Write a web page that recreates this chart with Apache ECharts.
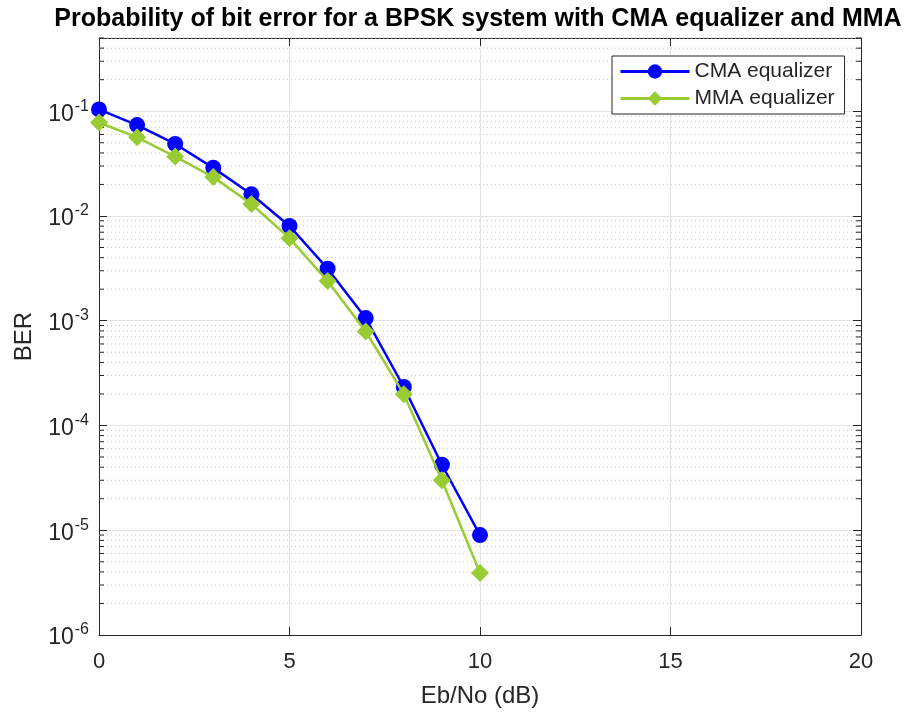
<!DOCTYPE html>
<html>
<head>
<meta charset="utf-8">
<script src="https://cdn.jsdelivr.net/npm/echarts@6/dist/echarts.min.js"></script>
<style>
html,body{margin:0;padding:0;background:#fff;}
#chart{width:915px;height:713px;}
</style>
</head>
<body>
<div id="chart"></div>
<script>
// ---- data ----
const ebno = [0, 1, 2, 3, 4, 5, 6, 7, 8, 9, 10];
const berCMA = [0.104, 0.0737, 0.0487, 0.0288, 0.0161, 0.00803, 0.00314, 0.00106, 0.000233, 4.22e-5, 9.0e-6];
const berMMA = [0.0781, 0.0563, 0.0369, 0.0235, 0.0130, 0.00614, 0.00239, 0.00079, 0.000199, 3.0e-5, 3.9e-6];
const xTicks = [0, 5, 10, 15, 20];
const yMin = 1e-6, yMax = 0.5;
const seriesNames = ['CMA equalizer', 'MMA equalizer'];

// minor log grid values (2..9 x each decade)
const minorGrid = [];
for (let e = -6; e <= -1; e++) {
  for (let k = 2; k <= 9; k++) {
    const v = k * Math.pow(10, e);
    if (v <= yMax * 1.0001) minorGrid.push([0, v]);
  }
}

const axisColor = '#262626';
const chart = echarts.init(document.getElementById('chart'), null, {renderer: 'canvas'});

function logLabel(v) {
  const l = Math.log10(v);
  const e = Math.round(l);
  if (Math.abs(l - e) > 1e-6) return '';
  return '{b|10}{s|' + e + '}';
}

const option = {
  animation: false,
  backgroundColor: '#fff',
  title: {
    text: 'Probability of bit error for a BPSK system with CMA equalizer and MMA',
    left: 473, top: 2, textAlign: 'center',
    textStyle: {fontFamily: 'Liberation Sans', fontWeight: 'bold', fontSize: 25, color: '#000'}
  },
  legend: {
    data: seriesNames,
    orient: 'vertical',
    left: 612, top: 56,
    backgroundColor: '#fff',
    borderColor: axisColor, borderWidth: 1,
    padding: [5, 10, 5, 7],
    itemWidth: 69, itemHeight: 18, itemGap: 6,
    lineStyle: {width: 3},
    textStyle: {fontFamily: 'Liberation Sans', fontSize: 21, color: axisColor}
  },
  grid: {left: 99, right: 54, top: 38, bottom: 73, containLabel: false},
  xAxis: [{
    type: 'value', min: 0, max: 20, interval: 5,
    name: 'Eb/No (dB)', nameLocation: 'middle', nameGap: 49,
    nameTextStyle: {fontFamily: 'Liberation Sans', fontSize: 24, color: axisColor},
    axisLine: {show: true, lineStyle: {color: axisColor, width: 1}},
    axisTick: {show: true, inside: true, length: 8, lineStyle: {color: axisColor}},
    axisLabel: {margin: 16, fontFamily: 'Liberation Sans', fontSize: 22, color: axisColor},
    splitLine: {show: true, lineStyle: {color: '#e3e3e3', width: 1}}
  }, {
    type: 'value', min: 0, max: 20, interval: 5, position: 'top',
    axisLine: {show: true, onZero: false, lineStyle: {color: axisColor, width: 1}},
    axisTick: {show: true, inside: true, length: 8, lineStyle: {color: axisColor}},
    axisLabel: {show: false}, splitLine: {show: false}
  }],
  yAxis: [{
    type: 'log', logBase: 10, min: yMin, max: yMax,
    name: 'BER', nameLocation: 'middle', nameGap: 63, nameRotate: 90,
    nameTextStyle: {fontFamily: 'Liberation Sans', fontSize: 24, color: axisColor},
    axisLine: {show: true, lineStyle: {color: axisColor, width: 1}},
    axisTick: {show: true, inside: true, length: 8, lineStyle: {color: axisColor}},
    axisLabel: {
      margin: 10, formatter: logLabel,
      rich: {
        b: {fontFamily: 'Liberation Sans', fontSize: 23, color: axisColor, padding: [6, 1, 0, 0]},
        s: {fontFamily: 'Liberation Sans', fontSize: 16, color: axisColor, padding: [0, 0, 10, 0]}
      }
    },
    splitLine: {show: true, lineStyle: {color: '#e3e3e3', width: 1}}
  }, {
    type: 'log', logBase: 10, min: yMin, max: yMax, position: 'right',
    axisLine: {show: true, onZero: false, lineStyle: {color: axisColor, width: 1}},
    axisTick: {show: true, inside: true, length: 8, lineStyle: {color: axisColor}},
    axisLabel: {show: false}, splitLine: {show: false}
  }],
  series: [
    {
      name: 'minorGrid', type: 'custom', silent: true, z: 1,
      xAxisIndex: 0, yAxisIndex: 0,
      data: minorGrid,
      renderItem: function (params, api) {
        const v = api.value(1);
        const p0 = api.coord([0, v]);
        const p1 = api.coord([20, v]);
        return {
          type: 'group',
          children: [
            {type: 'line', shape: {x1: p0[0], y1: p0[1], x2: p1[0], y2: p1[1]},
              style: {stroke: '#c8c8c8', lineWidth: 1, lineDash: [1, 3]}},
            {type: 'line', shape: {x1: p0[0], y1: p0[1], x2: p0[0] + 5, y2: p0[1]},
              style: {stroke: axisColor, lineWidth: 1}},
            {type: 'line', shape: {x1: p1[0] - 5, y1: p1[1], x2: p1[0], y2: p1[1]},
              style: {stroke: axisColor, lineWidth: 1}}
          ]
        };
      }
    },
    {
      name: seriesNames[0], type: 'line', z: 3,
      data: ebno.map((x, i) => [x, berCMA[i]]),
      symbol: 'circle', symbolSize: 16,
      lineStyle: {color: '#0000ff', width: 2.5},
      itemStyle: {color: '#0000ff'}
    },
    {
      name: seriesNames[1], type: 'line', z: 4,
      data: ebno.map((x, i) => [x, berMMA[i]]),
      symbol: 'diamond', symbolSize: 18,
      lineStyle: {color: '#99cc33', width: 2.5},
      itemStyle: {color: '#99cc33'}
    }
  ]
};
chart.setOption(option);
</script>
</body>
</html>
